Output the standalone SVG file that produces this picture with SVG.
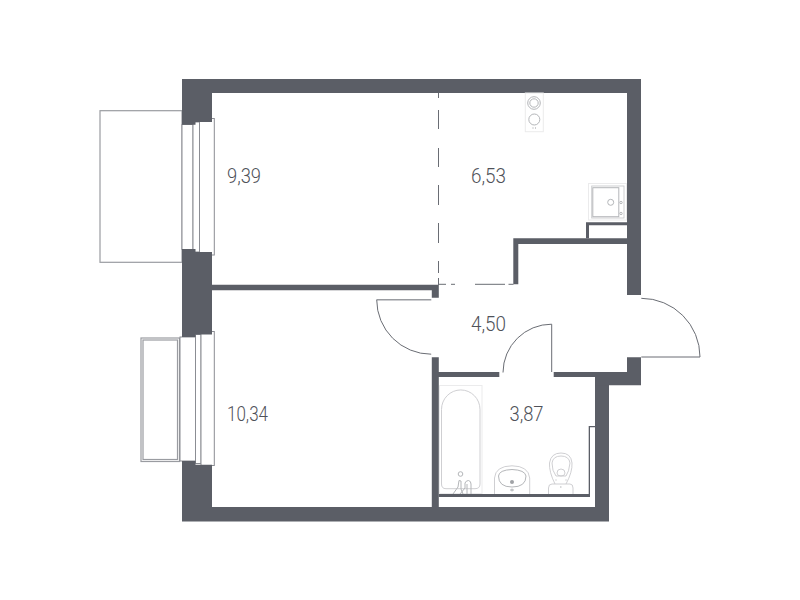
<svg xmlns="http://www.w3.org/2000/svg" width="800" height="600" viewBox="0 0 800 600">
<style>
.w{fill:#5b5e66}
.f{fill:#fff;stroke:#8b8d93;stroke-width:1}
.g{fill:none;stroke:#9a9ca1;stroke-width:1.2}
.d{fill:none;stroke:#6a6d74;stroke-width:1}
.l{fill:none;stroke:#c9cacd;stroke-width:.9}
.v{fill:none;stroke:#b4b6b9;stroke-width:1}
.x{fill:none;stroke:#ebebec;stroke-width:1}
.t{font-family:"Roboto","Liberation Sans",sans-serif;font-weight:300;font-size:20px;fill:#4f5259}
</style>
<rect width="800" height="600" fill="#fff"/>
<g id="balconies">
<rect class="g" x="100" y="110.7" width="82" height="151.6"/>
<rect class="g" x="141" y="338" width="38.5" height="123.5"/>
<rect class="g" x="143" y="340" width="34.5" height="119.5"/>
</g>
<g id="windows">
<rect class="f" x="182" y="124.5" width="11" height="125"/>
<rect class="f" x="193" y="122" width="6.500" height="130"/>
<rect class="f" x="199.500" y="118.500" width="14.800" height="136.500"/>
<rect class="f" x="180" y="337" width="15.500" height="124"/>
<rect class="f" x="195.500" y="334.500" width="5.500" height="129"/>
<rect class="f" x="201" y="331.500" width="13.300" height="134"/>
</g>
<g id="walls">
<path class="w" d="M182 79H641V295H627V93H212V122H195.500V124.700H182Z"/>
<path class="w" d="M182 249H195.500V252H212V334.500H195.500V337H182Z"/>
<path class="w" d="M182 461H195.500V464.700H212V507H595V385H609V507H609V521.500H182Z"/>
<path class="w" d="M212 284.700H438.800V297.800H431.800V290.300H212Z"/>
<path class="w" d="M513.300 238.300H627V244H518.300V284.300H513.300Z"/>
<path class="w" d="M586 222.300H627V225.300H589V238.300H586Z"/>
<path class="w" d="M627 357.300H641V385.300H609V385.300H595V377H553.700V372H627Z"/>
<path class="w" d="M431.800 357.300H438.800V372H499.300V377H438.800V507H431.800Z"/>
<path class="w" d="M438.800 494H590V497H438.800Z"/>
<path class="w" d="M588.700 426H595V427.200H590V494H588.700Z"/>
</g>
<g id="connectors">
<path d="M376.700 299.700H431.300" fill="none" stroke="#9a9ca1" stroke-width="1.400"/>
<path class="d" d="M376.700 299.700A54.500 54.500 0 0 0 431.200 354.200"/>
<path class="d" d="M551.700 372V324.200A48.500 48.500 0 0 0 503 372.500"/>
<path class="d" d="M641.300 298.300A58.700 58.700 0 0 1 700 357H641.300"/>
<path class="d" stroke-width="1.200" d="M438.500 93V98M438.500 110V129M438.500 148V167M438.500 185V205M438.500 223V243M438.500 261V273M438.500 278V285M439 284.300H446M451 284.300H455M475 284.300H505M508.500 284.300H513.500"/>
</g>
<g id="stove">
<rect class="x" x="525.300" y="93" width="18" height="38.700"/>
<circle class="v" cx="534" cy="103" r="6.300"/>
<circle class="v" cx="534" cy="103" r="4.200"/>
<circle class="v" cx="534.300" cy="119.500" r="5.500"/>
<path d="M532.500 128h1M535 128h1" stroke="#9a9ca1" stroke-width="1"/>
</g>
<g id="sink">
<rect class="x" x="588.500" y="183.500" width="38" height="36.500"/>
<rect class="l" x="591.700" y="186" width="32.300" height="32"/>
<rect class="v" x="592.800" y="187.700" width="26" height="29"/>
<circle class="v" cx="610.700" cy="202.300" r="3"/>
<circle class="v" cx="621" cy="202.500" r="1.200"/>
<circle class="v" cx="621" cy="213.500" r="1.200"/>
</g>
<g id="bath">
<rect class="x" x="439.500" y="385.500" width="42.500" height="108"/>
<path class="l" d="M441.500 484V409.500A19.200 19.500 0 0 1 480 409.500V484Q480 488.700 475 488.700H446Q441.500 488.700 441.500 484Z"/>
<circle class="v" cx="460.500" cy="474" r="2.300"/>
<path class="v" d="M453 494L458 487L459 480.500L461 481V489L463 494M460 494L465 488V483Q466 480.500 468.500 480.500Q471 481 471 484V494M467 484V494"/>
</g>
<g id="basin">
<path class="l" d="M494.500 494V478Q495.500 466 512 465.800Q528.500 466 529.700 478V494"/>
<path class="v" stroke-width=".8" d="M498.500 476Q499 470 512 469.500Q525 470 526 476Q526 487 512 487Q498.500 487 498.500 476Z"/>
<circle cx="512" cy="482" r="2" fill="#a0a2a6"/>
<path d="M510 490h4M512 488.500v3" stroke="#a0a2a6" stroke-width=".8"/>
</g>
<g id="toilet">
<path class="l" d="M548.500 494V488Q548.500 484 552 484H570Q573 484 573 488V494"/>
<path class="l" d="M555 484Q549 472 549.500 463Q551 453 561 453Q571 453 572 463Q572.500 472 566 484"/>
<path class="l" d="M552 463Q553 456 561 456Q569 456 570 463Q569 472 566 476H556Q552 471 552 463Z"/>
<path class="l" d="M557 473Q557 469 561 469Q565 469 565 473Q565 476 561 476Q557 476 557 473Z"/>
<path d="M555.500 480h1M565.500 480h1M560 487h1.500" stroke="#a0a2a6" stroke-width=".8"/>
</g>
<g id="labels">
<text class="t" x="227" y="183" textLength="34" lengthAdjust="spacingAndGlyphs">9,39</text>
<text class="t" x="471" y="183" textLength="35" lengthAdjust="spacingAndGlyphs">6,53</text>
<text class="t" x="471" y="331" textLength="35" lengthAdjust="spacingAndGlyphs">4,50</text>
<text class="t" x="509.500" y="421" textLength="34" lengthAdjust="spacingAndGlyphs">3,87</text>
<text class="t" x="227" y="421" textLength="41" lengthAdjust="spacingAndGlyphs">10,34</text>
</g>
</svg>
